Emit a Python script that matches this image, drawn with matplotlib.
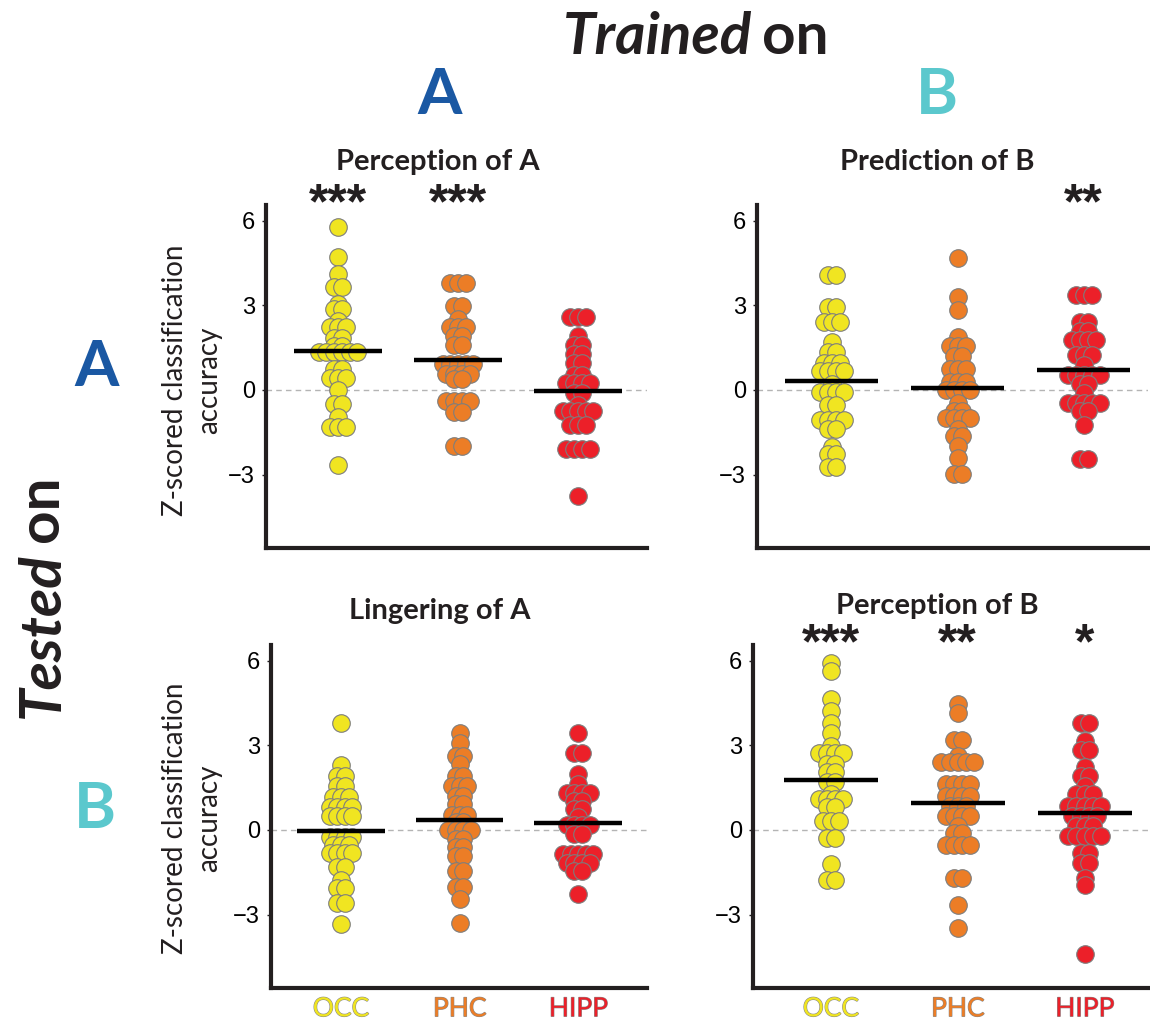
import numpy as np
import matplotlib
matplotlib.use('Agg')
import matplotlib.pyplot as plt
import matplotlib.patheffects as pe
from matplotlib.transforms import blended_transform_factory

# z-scored classification accuracy, one value per subject
percA_occ = [5.76, 4.71, 4.12, 3.64, 3.64, 3.03, 2.85, 2.85, 2.44, 2.23, 2.23, 2.23,
             1.85, 1.85, 1.56, 1.56, 1.33, 1.33, 1.33, 1.33, 1.33, 1.33, 0.74, 0.74,
             0.42, 0.42, 0.42, 0.0, -0.49, -0.49, -0.96, -1.31, -1.31, -1.31, -2.66]
percA_phc = [3.79, 3.79, 3.79, 2.97, 2.97, 2.52, 2.23, 2.23, 2.23, 1.91, 1.91, 1.60,
             1.60, 0.92, 0.92, 0.92, 0.92, 0.92, 0.56, 0.56, 0.56, 0.56, 0.39, 0.39,
             -0.41, -0.41, -0.41, -0.41, -0.79, -0.79, -1.98, -1.98]
percA_hipp = [2.58, 2.58, 2.58, 1.91, 1.60, 1.60, 1.27, 1.27, 0.94, 0.94, 0.54, 0.54,
              0.23, 0.23, 0.23, 0.23, -0.12, -0.12, -0.55, -0.75, -0.75, -0.75, -0.75,
              -0.75, -1.26, -1.26, -1.26, -2.10, -2.10, -2.10, -2.10, -3.76]

predB_occ = [4.08, 4.08, 2.93, 2.93, 2.41, 2.41, 2.41, 1.68, 1.36, 1.36, 0.97, 0.97,
             0.97, 0.68, 0.68, 0.68, 0.68, 0.21, -0.06, -0.06, -0.06, -0.06, -0.55,
             -0.55, -1.06, -1.06, -1.06, -1.06, -1.40, -1.40, -2.02, -2.28, -2.28,
             -2.72, -2.72]
predB_phc = [4.67, 3.30, 2.82, 1.89, 1.56, 1.56, 1.56, 1.19, 1.19, 0.74, 0.74, 0.74,
             0.27, 0.27, 0.27, 0.0, 0.0, 0.0, 0.0, -0.46, -0.73, -0.73, -1.0, -1.0,
             -1.0, -1.0, -1.37, -1.63, -1.63, -1.98, -2.41, -2.99, -2.99]
predB_hipp = [3.35, 3.35, 3.35, 2.41, 2.41, 2.09, 2.09, 1.76, 1.76, 1.76, 1.76, 1.23,
              1.23, 1.23, 0.89, 0.54, 0.54, 0.54, 0.54, 0.54, 0.21, 0.21, -0.12, -0.46,
              -0.46, -0.46, -0.46, -0.46, -0.76, -0.76, -1.26, -2.43, -2.43]

lingA_occ = [3.78, 2.31, 1.92, 1.92, 1.54, 1.54, 1.15, 1.15, 1.15, 0.80, 0.80, 0.80,
             0.80, 0.51, 0.51, 0.51, 0.51, -0.24, -0.24, -0.24, -0.24, -0.52, -0.52,
             -0.52, -0.81, -0.81, -0.81, -0.81, -1.32, -1.32, -1.79, -2.06, -2.06,
             -2.59, -2.59, -3.32]
lingA_phc = [3.42, 3.09, 2.62, 2.62, 2.33, 1.92, 1.92, 1.56, 1.56, 1.56, 1.21, 1.21,
             0.92, 0.92, 0.54, 0.54, 0.54, 0.27, 0.27, 0.0, 0.0, 0.0, 0.0, -0.32, -0.32,
             -0.61, -0.61, -0.91, -0.91, -1.47, -1.47, -2.02, -2.02, -2.44, -3.29]
lingA_hipp = [3.45, 2.74, 2.74, 1.98, 1.62, 1.31, 1.31, 1.31, 1.31, 1.04, 1.04, 0.74,
              0.74, 0.45, 0.18, 0.18, 0.18, 0.18, -0.14, -0.14, -0.85, -0.85, -0.85,
              -0.85, -0.85, -1.18, -1.18, -1.18, -1.18, -1.44, -1.44, -2.28]

percB_occ = [5.92, 5.62, 4.62, 4.21, 3.80, 3.45, 2.98, 2.74, 2.74, 2.74, 2.74, 2.33,
             2.33, 2.04, 2.04, 1.68, 1.68, 1.27, 1.09, 1.09, 1.09, 1.09, 0.80, 0.80,
             0.33, 0.33, 0.33, -0.28, -0.28, -1.22, -1.79, -1.79]
percB_phc = [4.47, 4.15, 3.19, 3.19, 2.62, 2.42, 2.42, 2.42, 2.42, 2.42, 1.62, 1.62,
             1.62, 1.62, 1.21, 1.21, 1.21, 1.21, 0.86, 0.86, 0.86, 0.51, 0.51, 0.51,
             0.51, 0.15, -0.12, -0.12, -0.52, -0.52, -0.52, -0.52, -1.69, -1.69, -2.67,
             -3.46]
percB_hipp = [3.80, 3.80, 3.15, 2.82, 2.82, 2.24, 1.92, 1.92, 1.56, 1.27, 1.27, 1.27,
              0.86, 0.86, 0.86, 0.86, 0.86, 0.51, 0.51, 0.51, 0.51, 0.15, 0.15, 0.15,
              -0.22, -0.22, -0.22, -0.22, -0.22, -0.81, -0.81, -1.18, -1.18, -1.69,
              -1.96, -4.40]

regions = ['OCC', 'PHC', 'HIPP']
region_colors = ['#f0e521', '#ec7d26', '#ec2029']
titles = ['Perception of A', 'Prediction of B', 'Lingering of A', 'Perception of B']
stars = [['***', '***', ''], ['', '', '**'], ['', '', ''], ['***', '**', '*']]
panels = [[percA_occ, percA_phc, percA_hipp],
          [predB_occ, predB_phc, predB_hipp],
          [lingA_occ, lingA_phc, lingA_hipp],
          [percB_occ, percB_phc, percB_hipp]]

W, H = 1150, 1021
DARK = '#231f20'
BLUE = '#1a58a3'
TEAL = '#5bc8cd'
FONT = 'Lato'


def fx(x):
    return x / W


def fy(y):
    return 1 - y / H


# spread equal values side by side, centred on the category
def spread(vals, step):
    vals = np.asarray(vals)
    off = np.zeros(len(vals))
    for v in np.unique(vals):
        idx = np.where(vals == v)[0]
        off[idx] = (np.arange(len(idx)) - (len(idx) - 1) / 2) * step
    return off


fig = plt.figure(figsize=(W / 100, H / 100), dpi=100)

# axes boxes in pixels: left, top, right, bottom
boxes = [(266, 205, 647, 548), (757, 205, 1148, 548),
         (271, 645, 647, 988), (753, 645, 1148, 988)]
xlims = [(-0.6, 2.575), (-0.593, 2.51), (-0.59, 2.58), (-0.614, 2.50)]

for k, (l, t, r, b) in enumerate(boxes):
    ax = fig.add_axes([fx(l), fy(b), (r - l) / W, (b - t) / H])
    ax.set_xlim(*xlims[k])
    ax.set_ylim(-5.6, 6.55)
    ax.axhline(0, color='#b4b4b4', lw=1, ls=(0, (4, 3)), zorder=1)
    for i, vals in enumerate(panels[k]):
        xs = i + spread(vals, 0.064)
        ax.scatter(xs, vals, s=160, color=region_colors[i], edgecolor='#7d7d7d',
                   linewidth=0.8, zorder=2)
        m = np.mean(vals)
        ax.plot([i - 0.37, i + 0.37], [m, m], color='black', lw=3.2,
                solid_capstyle='butt', zorder=3)
        if stars[k][i]:
            tr = blended_transform_factory(ax.transData, ax.transAxes)
            ax.text(i, 1.0, stars[k][i], transform=tr, ha='center', va='center',
                    fontsize=36, fontweight='bold', family='Liberation Sans',
                    color=DARK, clip_on=False)

    for side in ['top', 'right']:
        ax.spines[side].set_visible(False)
    for side in ['left', 'bottom']:
        ax.spines[side].set_linewidth(3)
        ax.spines[side].set_color(DARK)
    ax.set_yticks([-3, 0, 3, 6])
    ax.tick_params(axis='y', length=3, width=1, color=DARK, labelsize=17, pad=5)
    for lab in ax.get_yticklabels():
        lab.set_family('Liberation Sans')
    if k >= 2:
        ax.set_xticks([0, 1, 2])
        ax.set_xticklabels(regions)
        ax.tick_params(axis='x', length=0, pad=6)
        for lab, c in zip(ax.get_xticklabels(), region_colors):
            lab.set_color(c)
            lab.set_fontsize(19)
            lab.set_family(FONT)
            lab.set_path_effects([pe.Stroke(linewidth=0.8, foreground='#8a8a8a'),
                                  pe.Normal()])
    else:
        ax.set_xticks([])

# panel titles
title_pos = [(438, 162), (937, 162), (440, 611), (937, 606)]
for (x, y), t in zip(title_pos, titles):
    fig.text(fx(x), fy(y), t, ha='center', va='center', fontsize=21,
             fontweight='bold', family=FONT, color=DARK)

# y labels on the left column
for y in [380, 818]:
    fig.text(fx(192), fy(y), 'Z-scored classification\naccuracy', rotation=90,
             ha='center', va='center', fontsize=20, family=FONT, color=DARK,
             linespacing=1.4)

# column / row headers
fig.text(fx(752), fy(38), 'Trained', ha='right', va='center', fontsize=42,
         fontweight='bold', style='italic', family=FONT, color=DARK)
fig.text(fx(762), fy(38), 'on', ha='left', va='center', fontsize=42,
         fontweight='bold', family=FONT, color=DARK)
fig.text(fx(440), fy(95), 'A', ha='center', va='center', fontsize=46,
         fontweight='bold', family=FONT, color=BLUE)
fig.text(fx(937), fy(95), 'B', ha='center', va='center', fontsize=46,
         fontweight='bold', family=FONT, color=TEAL)
fig.text(fx(97), fy(368), 'A', ha='center', va='center', fontsize=46,
         fontweight='bold', family=FONT, color=BLUE)
fig.text(fx(95), fy(810), 'B', ha='center', va='center', fontsize=46,
         fontweight='bold', family=FONT, color=TEAL)
fig.text(fx(42), fy(552), 'Tested', rotation=90, ha='center', va='top',
         fontsize=42, fontweight='bold', style='italic', family=FONT, color=DARK)
fig.text(fx(42), fy(542), 'on', rotation=90, ha='center', va='bottom',
         fontsize=42, fontweight='bold', family=FONT, color=DARK)

fig.savefig('out.png', dpi=100)
